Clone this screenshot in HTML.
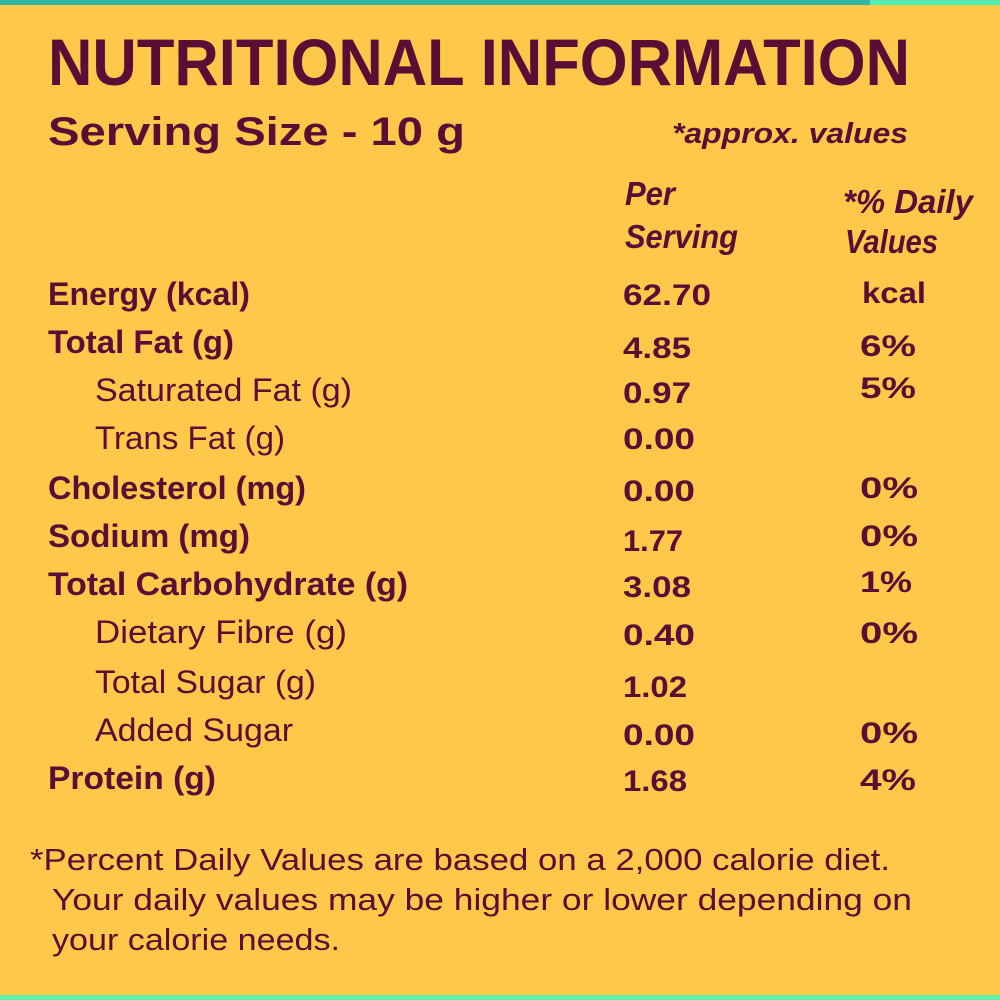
<!DOCTYPE html><html><head><style>body{margin:0;background:#fec84a}svg{display:block}</style></head><body>
<svg width="1000" height="1000" xmlns="http://www.w3.org/2000/svg" font-family="Liberation Sans, sans-serif" fill="#5a0d35">
<rect width="1000" height="1000" fill="#fec84a"/>
<rect x="0" y="0" width="870" height="5" fill="#2fb8a0"/>
<rect x="870" y="0" width="130" height="5" fill="#52f0b0"/>
<rect x="0" y="995" width="1000" height="5" fill="#5ef0a8"/>
<text x="48" y="85" font-size="66" font-weight="bold" textLength="862" lengthAdjust="spacingAndGlyphs">NUTRITIONAL INFORMATION</text>
<text x="48" y="145" font-size="40" font-weight="bold" textLength="417" lengthAdjust="spacingAndGlyphs">Serving Size  - 10 g</text>
<text x="672" y="143" font-size="29" font-weight="bold" font-style="italic" textLength="236" lengthAdjust="spacingAndGlyphs">*approx. values</text>
<g font-size="33" font-weight="bold" font-style="italic">
<text x="625" y="205" textLength="50" lengthAdjust="spacingAndGlyphs">Per</text>
<text x="625" y="248" textLength="113" lengthAdjust="spacingAndGlyphs">Serving</text>
<text x="843" y="213" textLength="130" lengthAdjust="spacingAndGlyphs">*% Daily</text>
<text x="845" y="253" textLength="93" lengthAdjust="spacingAndGlyphs">Values</text>
</g>
<g font-size="32">
<text x="48" y="305" font-weight="bold" textLength="202" lengthAdjust="spacingAndGlyphs">Energy (kcal)</text>
<text x="48" y="353" font-weight="bold" textLength="186" lengthAdjust="spacingAndGlyphs">Total Fat (g)</text>
<text x="95" y="401" textLength="257" lengthAdjust="spacingAndGlyphs">Saturated Fat (g)</text>
<text x="95" y="449" textLength="190" lengthAdjust="spacingAndGlyphs">Trans Fat (g)</text>
<text x="48" y="499" font-weight="bold" textLength="258" lengthAdjust="spacingAndGlyphs">Cholesterol (mg)</text>
<text x="48" y="547" font-weight="bold" textLength="202" lengthAdjust="spacingAndGlyphs">Sodium (mg)</text>
<text x="48" y="595" font-weight="bold" textLength="360" lengthAdjust="spacingAndGlyphs">Total Carbohydrate (g)</text>
<text x="95" y="643" textLength="252" lengthAdjust="spacingAndGlyphs">Dietary Fibre (g)</text>
<text x="95" y="693" textLength="221" lengthAdjust="spacingAndGlyphs">Total Sugar (g)</text>
<text x="95" y="741" textLength="198" lengthAdjust="spacingAndGlyphs">Added Sugar</text>
<text x="48" y="789" font-weight="bold" textLength="168" lengthAdjust="spacingAndGlyphs">Protein (g)</text>
</g>
<g font-size="30" font-weight="bold">
<text x="623" y="305" textLength="88" lengthAdjust="spacingAndGlyphs">62.70</text>
<text x="623" y="358" textLength="68" lengthAdjust="spacingAndGlyphs">4.85</text>
<text x="623" y="403" textLength="68" lengthAdjust="spacingAndGlyphs">0.97</text>
<text x="623" y="449" textLength="72" lengthAdjust="spacingAndGlyphs">0.00</text>
<text x="623" y="501" textLength="72" lengthAdjust="spacingAndGlyphs">0.00</text>
<text x="623" y="551" textLength="60" lengthAdjust="spacingAndGlyphs">1.77</text>
<text x="623" y="597" textLength="68" lengthAdjust="spacingAndGlyphs">3.08</text>
<text x="623" y="645" textLength="72" lengthAdjust="spacingAndGlyphs">0.40</text>
<text x="623" y="697" textLength="64" lengthAdjust="spacingAndGlyphs">1.02</text>
<text x="623" y="745" textLength="72" lengthAdjust="spacingAndGlyphs">0.00</text>
<text x="623" y="791" textLength="64" lengthAdjust="spacingAndGlyphs">1.68</text>
<text x="862" y="303" textLength="64" lengthAdjust="spacingAndGlyphs">kcal</text>
<text x="860" y="356" textLength="56" lengthAdjust="spacingAndGlyphs">6%</text>
<text x="860" y="398" textLength="56" lengthAdjust="spacingAndGlyphs">5%</text>
<text x="860" y="498" textLength="58" lengthAdjust="spacingAndGlyphs">0%</text>
<text x="860" y="546" textLength="58" lengthAdjust="spacingAndGlyphs">0%</text>
<text x="860" y="592" textLength="52" lengthAdjust="spacingAndGlyphs">1%</text>
<text x="860" y="643" textLength="58" lengthAdjust="spacingAndGlyphs">0%</text>
<text x="860" y="743" textLength="58" lengthAdjust="spacingAndGlyphs">0%</text>
<text x="860" y="790" textLength="56" lengthAdjust="spacingAndGlyphs">4%</text>
</g>
<g font-size="31">
<text x="30" y="870" textLength="860" lengthAdjust="spacingAndGlyphs">*Percent Daily Values are based on a 2,000 calorie diet.</text>
<text x="52" y="910" textLength="860" lengthAdjust="spacingAndGlyphs">Your daily values may be higher or lower depending on</text>
<text x="52" y="950" textLength="288" lengthAdjust="spacingAndGlyphs">your calorie needs.</text>
</g>
</svg></body></html>
